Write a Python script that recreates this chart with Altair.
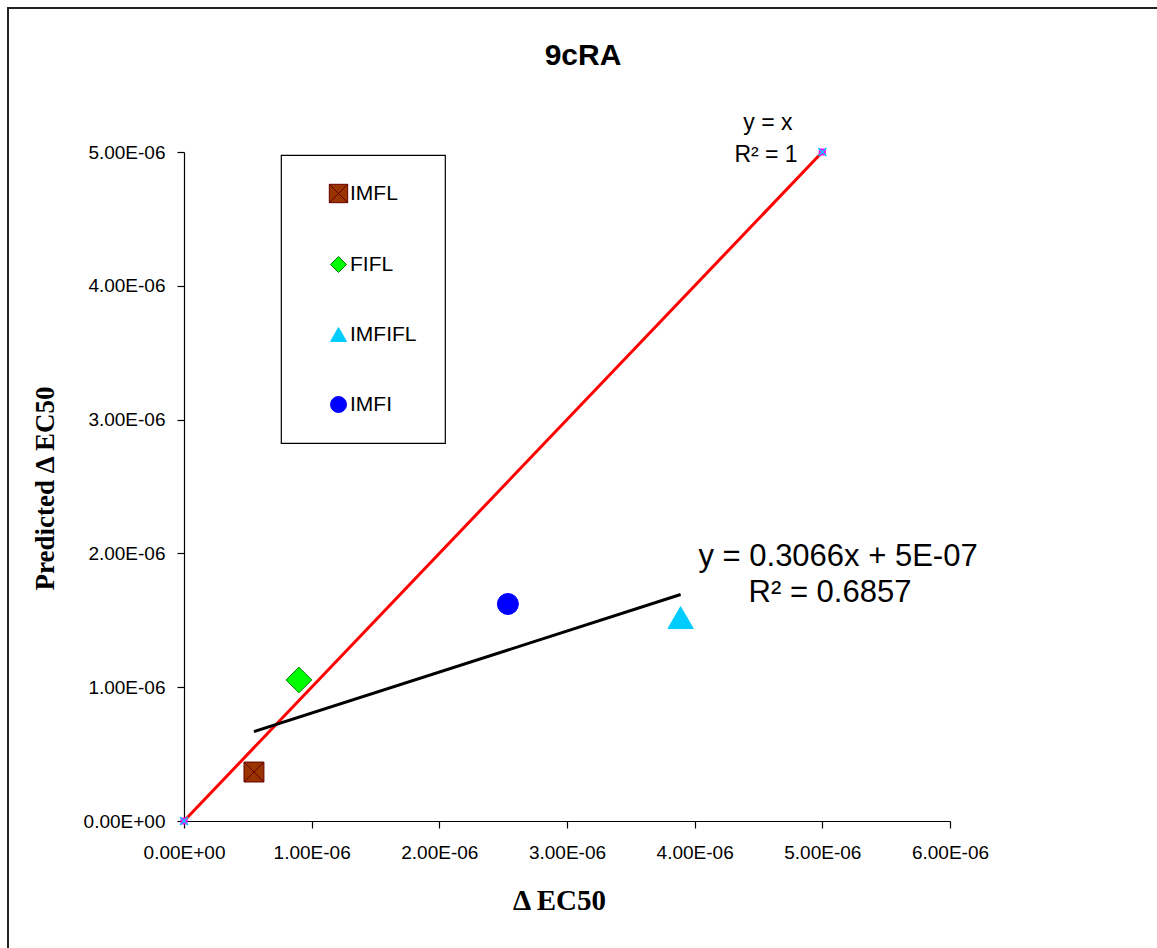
import altair as alt
import pandas as pd

# ---- data ----
series = ["IMFL", "FIFL", "IMFIFL", "IMFI"]
delta_ec50 = [0.548e-6, 0.900e-6, 3.890e-6, 2.537e-6]
predicted_ec50 = [0.366e-6, 1.054e-6, 1.520e-6, 1.622e-6]

identity_x = [0.0, 5.0e-6]
identity_y = [0.0, 5.0e-6]

trend_slope = 0.3066
trend_intercept = 5e-7

x_ticks = [0.0, 1e-6, 2e-6, 3e-6, 4e-6, 5e-6, 6e-6]
y_ticks = [0.0, 1e-6, 2e-6, 3e-6, 4e-6, 5e-6]

annot_text = ["y = x", "R² = 1", "y = 0.3066x + 5E-07", "R² = 0.6857"]
annot_x = [4.574e-6, 4.559e-6, 5.123e-6, 5.060e-6]
annot_y = [5.217e-6, 4.978e-6, 1.973e-6, 1.704e-6]
annot_group = ["identity", "identity", "trend", "trend"]

fill_colors = ["#993300", "#00FF00", "#00CCFF", "#0000FF"]
stroke_colors = ["#660000", "#007700", "#00CCFF", "#0000FF"]
shapes = ["M-1.15,-1.15H1.15V1.15H-1.15Z M-1.15,-1.15L1.15,1.15 M1.15,-1.15L-1.15,1.15",
          "diamond", "triangle-up", "circle"]
sizes = [300, 660, 640, 441]

# ---- tables ----
pts = pd.DataFrame({"series": series, "x": delta_ec50, "y": predicted_ec50})
ident = pd.DataFrame({"x": identity_x, "y": identity_y})
tx = [min(delta_ec50), max(delta_ec50)]
trend = pd.DataFrame({"x": tx, "y": [trend_slope * v + trend_intercept for v in tx]})
annots = pd.DataFrame({"t": annot_text, "x": annot_x, "y": annot_y, "g": annot_group})

label_expr = "datum.value == 0 ? '0.00E+00' : format(datum.value * 1e6, '.2f') + 'E-06'"

W, H = 766, 669
PL, PT = 184, 152

xscale = alt.Scale(domain=[0, 6e-6], nice=False, zero=False)
yscale = alt.Scale(domain=[0, 5e-6], nice=False, zero=False)

xaxis = alt.Axis(values=x_ticks, labelExpr=label_expr, title="Δ EC50", grid=False,
                 titleFont="Liberation Serif", titleFontSize=29, titleFontWeight="bold",
                 titleX=375, titleY=79, titleBaseline="middle", titleAlign="center",
                 labelPadding=15, labelFlush=False, labelOverlap=False)
yaxis = alt.Axis(values=y_ticks, labelExpr=label_expr, title="Predicted Δ EC50", grid=False,
                 titleFont="Liberation Serif", titleFontSize=27, titleFontWeight="bold",
                 titleX=-139, titleY=336, titleBaseline="middle", titleAlign="center",
                 titleAngle=270, labelPadding=12, labelFlush=False, labelOverlap=False)

X = alt.X("x:Q", scale=xscale, axis=xaxis)
Y = alt.Y("y:Q", scale=yscale, axis=yaxis)

border = alt.Chart(pd.DataFrame({"a": [0]})).mark_rect(
    fill=None, stroke="#222222", strokeWidth=2
).encode(
    x=alt.value(8 - PL), y=alt.value(8 - PT),
    x2=alt.value(1157 - PL + 20), y2=alt.value(948 - PT + 20)
)

ident_line = alt.Chart(ident).mark_line(color="#FF0000", strokeWidth=3).encode(x=X, y=Y)
trend_line = alt.Chart(trend).mark_line(color="#000000", strokeWidth=3).encode(x=X, y=Y)

ident_sq = alt.Chart(ident).mark_point(
    shape="square", filled=True, color="#FF00FF", size=49, opacity=1
).encode(x=X, y=Y)
ident_x = alt.Chart(ident).mark_point(
    shape="M-1,-1L1,1M1,-1L-1,1", filled=False, color="#00CCFF", size=64,
    strokeWidth=1.5, opacity=1
).encode(x=X, y=Y)

color_enc = alt.Color("series:N", scale=alt.Scale(domain=series, range=fill_colors),
                      legend=alt.Legend(title=None, orient="none", legendX=97, legendY=3))
shape_enc = alt.Shape("series:N", scale=alt.Scale(domain=series, range=shapes))
stroke_enc = alt.Stroke("series:N", scale=alt.Scale(domain=series, range=stroke_colors))

point_layers = []
for s, sz in zip(series, sizes):
    point_layers.append(
        alt.Chart(pts).transform_filter(alt.datum.series == s).mark_point(
            filled=True, opacity=1, strokeWidth=1, size=sz
        ).encode(x=X, y=Y, color=color_enc, shape=shape_enc, stroke=stroke_enc)
    )

ident_text = alt.Chart(annots).transform_filter("datum.g == 'identity'").mark_text(
    font="Liberation Sans", fontSize=23, color="black", align="center", baseline="middle"
).encode(x=X, y=Y, text="t:N")
trend_text = alt.Chart(annots).transform_filter("datum.g == 'trend'").mark_text(
    font="Liberation Sans", fontSize=31, color="black", align="center", baseline="middle"
).encode(x=X, y=Y, text="t:N")

chart = alt.layer(
    border, ident_line, trend_line, *point_layers, ident_sq, ident_x, ident_text, trend_text
).properties(
    width=W, height=H,
    title=alt.TitleParams("9cRA", font="Liberation Sans", fontSize=30, fontWeight="bold",
                          color="black", anchor="middle", frame="group", dx=16, offset=-64),
    autosize=alt.AutoSizeParams(type="none"),
    padding={"left": PL, "top": PT, "right": 1157 - PL - W, "bottom": 948 - PT - H},
    background="white",
).configure_view(stroke=None).configure_axis(
    domainColor="black", tickColor="black", tickSize=7, domainWidth=1.2, tickWidth=1.2,
    labelFont="Liberation Sans", labelFontSize=19, labelColor="black", titleColor="black",
).configure_legend(
    padding=28, strokeColor="black", fillColor="white", strokeWidth=1.2,
    labelFont="Liberation Sans", labelFontSize=21, labelColor="black",
    symbolSize=256, symbolOffset=19, labelOffset=1, rowPadding=48,
    symbolOpacity=1, symbolStrokeWidth=1,
)

chart.save("out.html", embed_options={"renderer": "svg", "actions": False})
